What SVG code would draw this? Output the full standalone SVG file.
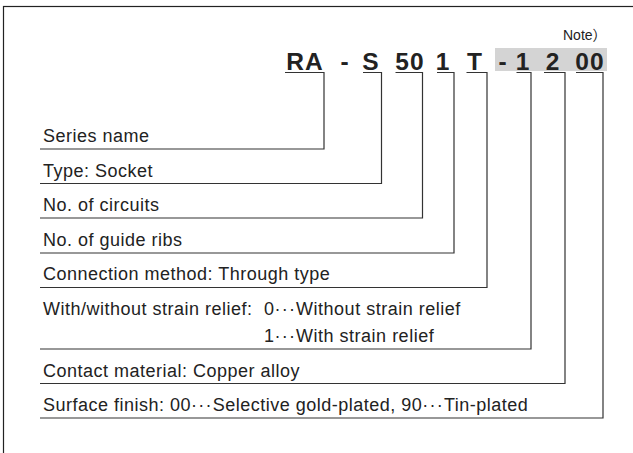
<svg xmlns="http://www.w3.org/2000/svg" width="633" height="453" viewBox="0 0 633 453">
<style>
.frame{fill:none;stroke:#222;stroke-width:1.2}
.code{font-family:"Liberation Sans",Arial,sans-serif;font-weight:bold;font-size:24.5px;fill:#222;text-anchor:middle;letter-spacing:1px}
.note{font-family:"Liberation Sans",Arial,"Noto Sans CJK JP",sans-serif;font-size:14px;fill:#222}
.lbl{font-family:"Liberation Sans",Arial,sans-serif;font-size:18px;fill:#222;letter-spacing:0.5px}
.dots{letter-spacing:1.2px}
.conn{fill:none;stroke:#333;stroke-width:1.2}
</style>
<rect class="frame" x="3.5" y="6.5" width="700" height="500"/>
<g id="note"><text class="note" x="563" y="39.5">Note）</text></g>
<g id="code">
<rect x="495" y="48" width="112" height="23" fill="#d4d4d4"/>
<text class="code" x="305" y="70">RA</text>
<text class="code" x="345" y="70">-</text>
<text class="code" x="371" y="70">S</text>
<text class="code" x="410" y="70">50</text>
<text class="code" x="443" y="70">1</text>
<text class="code" x="475" y="70">T</text>
<text class="code" x="503" y="70">-</text>
<text class="code" x="523" y="70">1</text>
<text class="code" x="553" y="70">2</text>
<text class="code" x="590" y="70">00</text>
</g>
<g id="connectors">
<polyline class="conn" points="285,72.5 324,72.5 324,149 40,149"/>
<polyline class="conn" points="363,72.5 381.5,72.5 381.5,183.5 40,183.5"/>
<polyline class="conn" points="395.5,72.5 422.5,72.5 422.5,218 40,218"/>
<polyline class="conn" points="437,72.5 454,72.5 454,253 40,253"/>
<polyline class="conn" points="466.5,72.5 487,72.5 487,287.5 40,287.5"/>
<polyline class="conn" points="516.5,72.5 531,72.5 531,349 40,349"/>
<polyline class="conn" points="544,72.5 565,72.5 565,383.5 40,383.5"/>
<polyline class="conn" points="576,72.5 603,72.5 603,418 40,418"/>
</g>
<g id="series"><text class="lbl" x="43" y="142">Series name</text></g>
<g id="type"><text class="lbl" x="43" y="176.5">Type: Socket</text></g>
<g id="circuits"><text class="lbl" x="43" y="211">No. of circuits</text></g>
<g id="ribs"><text class="lbl" x="43" y="245.5">No. of guide ribs</text></g>
<g id="connection"><text class="lbl" x="43" y="280">Connection method: Through type</text></g>
<g id="strain">
<text class="lbl" x="43" y="314.5">With/without strain relief: <tspan x="264">0</tspan><tspan class="dots">···</tspan>Without strain relief</text>
<text class="lbl" x="264" y="341.5">1<tspan class="dots">···</tspan>With strain relief</text>
</g>
<g id="contact"><text class="lbl" x="43" y="376.5">Contact material: Copper alloy</text></g>
<g id="finish"><text class="lbl" x="43" y="411">Surface finish: 00<tspan class="dots">···</tspan>Selective gold-plated, 90<tspan class="dots">···</tspan>Tin-plated</text></g>
</svg>
